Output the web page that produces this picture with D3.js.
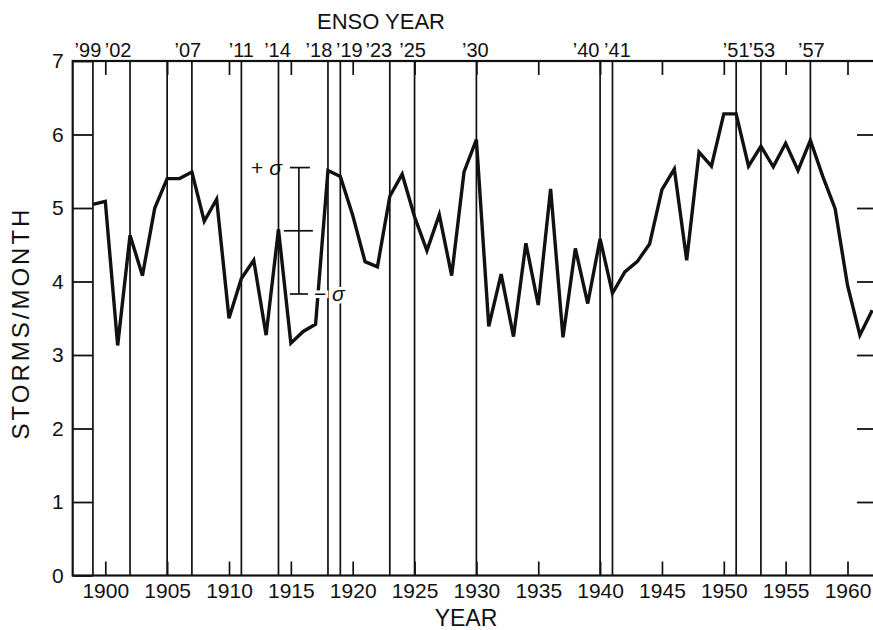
<!DOCTYPE html>
<html>
<head>
<meta charset="utf-8">
<script src="https://cdn.jsdelivr.net/npm/d3@7/dist/d3.min.js"></script>
<style>
  html, body { margin: 0; padding: 0; background: #fff; }
  svg { display: block; }
  text { font-family: "Liberation Sans", Arial, Helvetica, sans-serif; fill: #111; }
</style>
</head>
<body>
<svg id="chart" width="873" height="630"></svg>
<script>
// Annual mean storm frequency (storms per month), 1899–1962
const years = [
  1899, 1900, 1901, 1902, 1903, 1904, 1905, 1906, 1907, 1908,
  1909, 1910, 1911, 1912, 1913, 1914, 1915, 1916, 1917, 1918,
  1919, 1920, 1921, 1922, 1923, 1924, 1925, 1926, 1927, 1928,
  1929, 1930, 1931, 1932, 1933, 1934, 1935, 1936, 1937, 1938,
  1939, 1940, 1941, 1942, 1943, 1944, 1945, 1946, 1947, 1948,
  1949, 1950, 1951, 1952, 1953, 1954, 1955, 1956, 1957, 1958,
  1959, 1960, 1961, 1962
];
const stormsPerMonth = [
  5.05, 5.09, 3.13, 4.63, 4.08, 5.00, 5.40, 5.40, 5.49, 4.82,
  5.12, 3.50, 4.04, 4.29, 3.27, 4.71, 3.16, 3.32, 3.42, 5.51,
  5.43, 4.90, 4.27, 4.20, 5.16, 5.46, 4.88, 4.42, 4.91, 4.08,
  5.49, 5.93, 3.39, 4.10, 3.25, 4.52, 3.68, 5.26, 3.24, 4.45,
  3.70, 4.58, 3.84, 4.13, 4.27, 4.51, 5.25, 5.53, 4.29, 5.76,
  5.57, 6.28, 6.28, 5.57, 5.84, 5.56, 5.88, 5.51, 5.92, 5.43,
  4.99, 3.95, 3.27, 3.61
];

// ENSO years, marked by full-height vertical lines and labelled along the top
const ensoYears  = [1899, 1902, 1907, 1911, 1914, 1918, 1919, 1923, 1925, 1930, 1940, 1941, 1951, 1953, 1957];
const ensoLabels = ["’99", "’02", "’07", "’11", "’14", "’18", "’19", "’23", "’25", "’30", "’40", "’41", "’51", "’53", "’57"];
// additional unlabelled full-height line
const extraLines = [1905];

// axis ticks
const xTickYears  = [1900, 1905, 1910, 1915, 1920, 1925, 1930, 1935, 1940, 1945, 1950, 1955, 1960];
const xTickLabels = ["1900", "1905", "1910", "1915", "1920", "1925", "1930", "1935", "1940", "1945", "1950", "1955", "1960"];
const yTicks      = [0, 1, 2, 3, 4, 5, 6, 7];
const yTickLabels = ["0", "1", "2", "3", "4", "5", "6", "7"];

// standard-deviation bar: mean and one sigma
const sigmaMean = [4.69];
const sigmaSd   = [0.86];
const sigmaYear = [1915.65];

// ---------------------------------------------------------------
const svg = d3.select("#chart");
const frame = { left: 72.7, right: 875, top: 61, bottom: 575.5 };

const x = d3.scaleLinear().domain([1900, 1960]).range([105.3, 847.5]);
const y = d3.scaleLinear().domain([0, 7]).range([frame.bottom, frame.top]);

const ink = "#111";
const fontStack = "Liberation Sans, Arial, Helvetica, sans-serif";

// vertical ENSO lines
const allLines = ensoYears.concat(extraLines);
svg.append("g").selectAll("line").data(allLines).join("line")
  .attr("x1", d => x(d)).attr("x2", d => x(d))
  .attr("y1", frame.top).attr("y2", frame.bottom)
  .attr("stroke", ink).attr("stroke-width", 1.7);

// x axis ticks (inward, bottom and top)
const xAxisBottom = d3.axisBottom(x).tickValues(xTickYears).tickSizeInner(-14).tickSizeOuter(0)
  .tickFormat((d, i) => xTickLabels[i]).tickPadding(8);
const gxb = svg.append("g").attr("transform", `translate(0,${frame.bottom})`).call(xAxisBottom);
gxb.select(".domain").remove();
gxb.selectAll(".tick line").attr("stroke", ink).attr("stroke-width", 1.7);
gxb.selectAll(".tick text").attr("font-size", 21).attr("fill", ink).attr("font-family", fontStack);

const xAxisTop = d3.axisTop(x).tickValues(xTickYears).tickSizeInner(-14).tickSizeOuter(0).tickFormat("");
const gxt = svg.append("g").attr("transform", `translate(0,${frame.top})`).call(xAxisTop);
gxt.select(".domain").remove();
gxt.selectAll(".tick line").attr("stroke", ink).attr("stroke-width", 1.7);

// y axis ticks (inward, left and right)
const yAxisLeft = d3.axisLeft(y).tickValues(yTicks).tickSizeInner(-20).tickSizeOuter(0)
  .tickFormat((d, i) => yTickLabels[i]).tickPadding(9);
const gyl = svg.append("g").attr("transform", `translate(${frame.left},0)`).call(yAxisLeft);
gyl.select(".domain").remove();
gyl.selectAll(".tick line").attr("stroke", ink).attr("stroke-width", 1.8);
gyl.selectAll(".tick text").attr("font-size", 21).attr("fill", ink).attr("font-family", fontStack);

const yAxisRight = d3.axisRight(y).tickValues(yTicks.filter(d => d > 0 && d < 7)).tickSizeInner(-18).tickSizeOuter(0).tickFormat("");
const gyr = svg.append("g").attr("transform", `translate(${frame.right},0)`).call(yAxisRight);
gyr.select(".domain").remove();
gyr.selectAll(".tick line").attr("stroke", ink).attr("stroke-width", 1.8);

// frame
svg.append("rect")
  .attr("x", frame.left).attr("y", frame.top)
  .attr("width", frame.right - frame.left).attr("height", frame.bottom - frame.top)
  .attr("fill", "none").attr("stroke", ink).attr("stroke-width", 2.2);

// data line
const line = d3.line().x((d, i) => x(years[i])).y(d => y(d));
svg.append("path").datum(stormsPerMonth)
  .attr("d", line)
  .attr("fill", "none").attr("stroke", ink)
  .attr("stroke-width", 3.4).attr("stroke-linejoin", "miter").attr("stroke-miterlimit", 4);

// sigma bar
const sx = x(sigmaYear[0]);
const sTop = y(sigmaMean[0] + sigmaSd[0]);
const sMid = y(sigmaMean[0]);
const sBot = y(sigmaMean[0] - sigmaSd[0]);
const sg = svg.append("g").attr("stroke", ink).attr("stroke-width", 1.7);
sg.append("line").attr("x1", sx).attr("x2", sx).attr("y1", sTop).attr("y2", sBot);
sg.append("line").attr("x1", sx - 9).attr("x2", sx + 11).attr("y1", sTop).attr("y2", sTop);
sg.append("line").attr("x1", sx - 15).attr("x2", sx + 14).attr("y1", sMid).attr("y2", sMid);
sg.append("line").attr("x1", sx - 9).attr("x2", sx + 9).attr("y1", sBot).attr("y2", sBot);

const plusLabel = svg.append("text").attr("x", sx - 17).attr("y", sTop + 7)
  .attr("text-anchor", "end").attr("font-size", 21);
plusLabel.append("tspan").text("+ ");
plusLabel.append("tspan").attr("font-style", "italic").text("σ");

const minusLabel = svg.append("text").attr("x", sx + 15).attr("y", sBot + 7)
  .attr("text-anchor", "start").attr("font-size", 21)
  .attr("stroke", "#fff").attr("stroke-width", 6).attr("paint-order", "stroke");
minusLabel.append("tspan").text("− ");
minusLabel.append("tspan").attr("font-style", "italic").text("σ");

// ENSO year labels along the top, nudged apart where lines are close together
const labelNudge = { 1899: -5, 1902: -12, 1907: -4, 1914: -1, 1918: -9, 1919: 9, 1923: -11, 1925: -2,
                     1930: -1, 1940: -14, 1941: 5, 1953: 1, 1957: 1 };
svg.append("g").selectAll("text").data(ensoYears).join("text")
  .attr("x", d => x(d) + (labelNudge[d] || 0))
  .attr("y", 57)
  .attr("text-anchor", "middle")
  .attr("font-size", 20)
  .text((d, i) => ensoLabels[i]);

// titles
svg.append("text").attr("x", 381).attr("y", 29).attr("text-anchor", "middle")
  .attr("font-size", 22).text("ENSO YEAR");
svg.append("text").attr("x", 466).attr("y", 626).attr("text-anchor", "middle")
  .attr("font-size", 23).text("YEAR");
svg.append("text")
  .attr("transform", "translate(29,323) rotate(-90)")
  .attr("text-anchor", "middle").attr("font-size", 24).attr("letter-spacing", 3)
  .text("STORMS/MONTH");
</script>
</body>
</html>
